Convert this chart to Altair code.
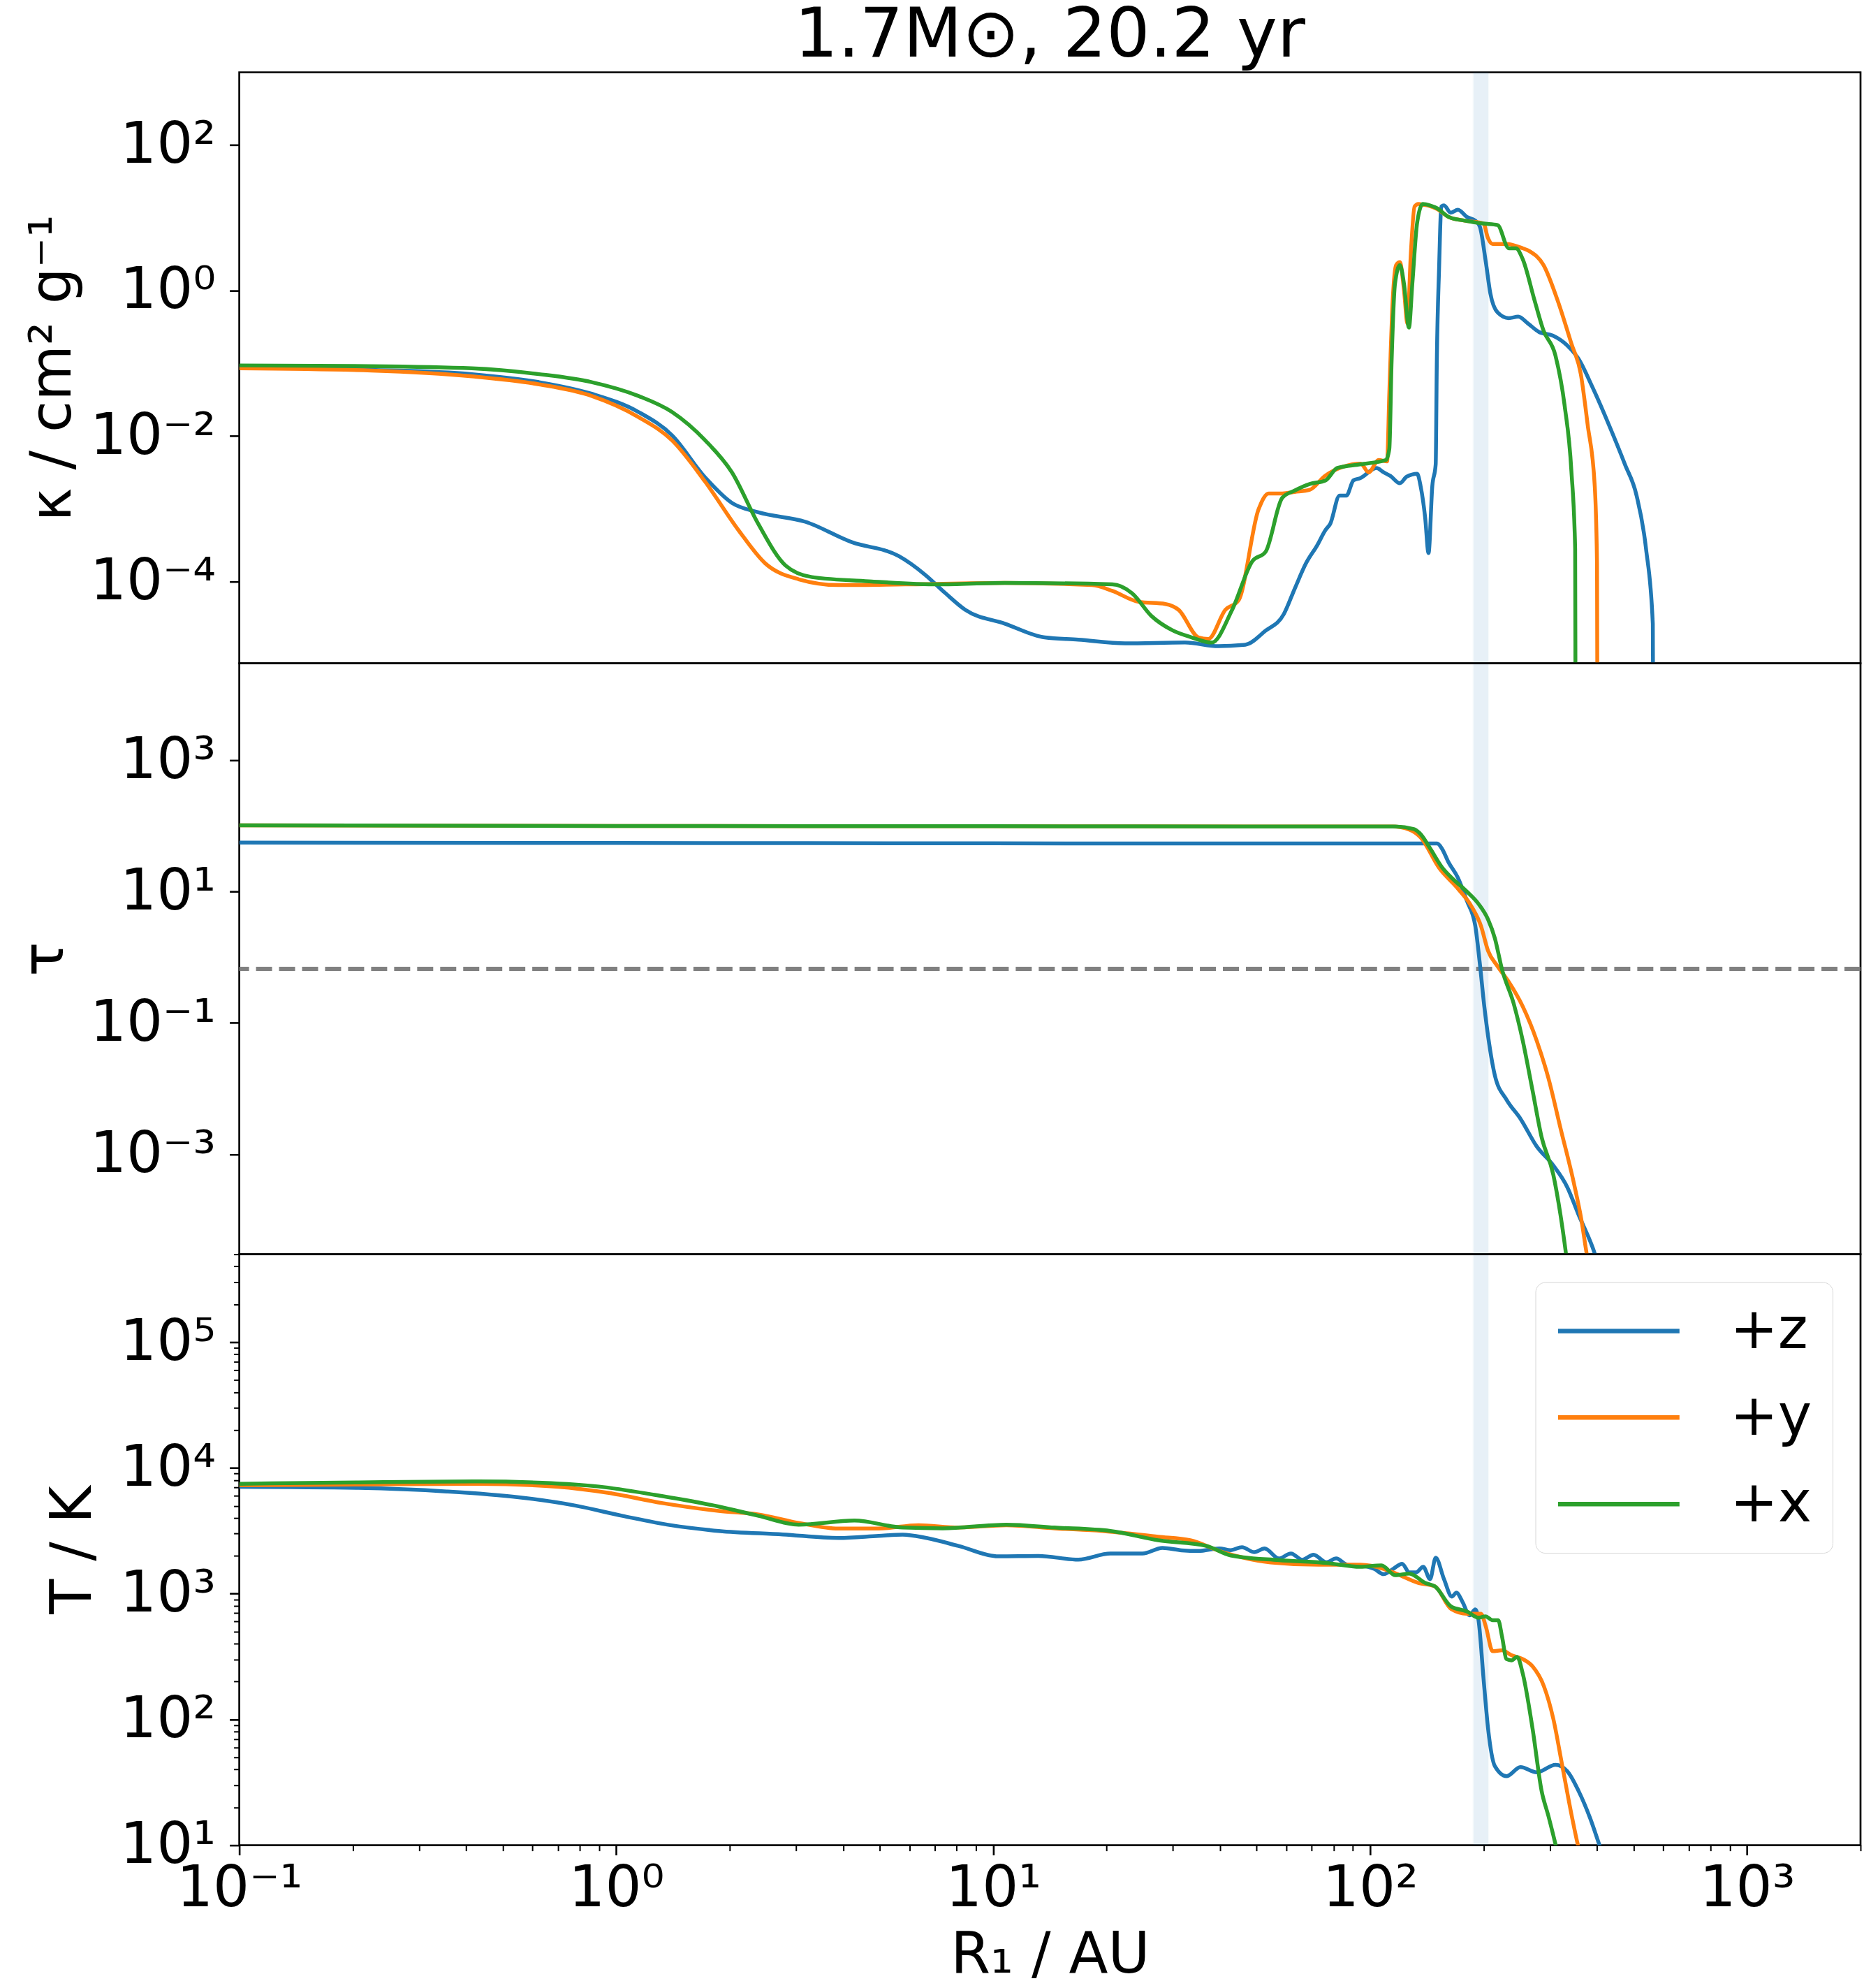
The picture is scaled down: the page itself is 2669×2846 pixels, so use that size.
import altair as alt
import pandas as pd

FONT = "DejaVu Sans"
W = 2324
H = 847

DIRS = ["+z", "+y", "+x"]
COLORS = ["#1f77b4", "#ff7f0e", "#2ca02c"]

# shaded radius band (AU)
BAND = [188.0, 206.0]
TAU_LINE = 2.0 / 3.0

# ---------------- opacity kappa (log10 R, log10 kappa) ----------------
kz_lr = [-1.0, -0.649, -0.383, -0.205, -0.065, 0.059, 0.148, 0.236, 0.307, 0.377, 0.502, 0.625, 0.749,
         0.820, 0.873, 0.926, 1.031, 1.137, 1.226, 1.350, 1.509, 1.598, 1.669, 1.722, 1.771, 1.80, 1.83,
         1.86, 1.882, 1.894, 1.919, 1.937, 1.956, 1.974, 2.017, 2.036, 2.054, 2.079, 2.097, 2.125, 2.134,
         2.146, 2.155, 2.165, 2.174, 2.177, 2.183, 2.189, 2.196, 2.214, 2.233, 2.257, 2.279, 2.291, 2.307,
         2.319, 2.338, 2.368, 2.393, 2.418, 2.448, 2.485, 2.522, 2.553, 2.590, 2.633, 2.676, 2.707, 2.732,
         2.750, 2.751, 2.752]
kz_lk = [-1.06, -1.09, -1.15, -1.26, -1.42, -1.67, -1.99, -2.57, -2.92, -3.05, -3.18, -3.46, -3.65,
         -3.91, -4.16, -4.39, -4.58, -4.77, -4.80, -4.85, -4.84, -4.89, -4.87, -4.68, -4.45, -4.10, -3.75,
         -3.50, -3.29, -3.21, -2.82, -2.82, -2.61, -2.58, -2.44, -2.50, -2.55, -2.65, -2.56, -2.52, -2.69,
         -3.12, -3.61, -2.69, -2.39, -0.985, 0.30, 1.155, 1.17, 1.07, 1.11, 1.01, 0.96, 0.88, 0.39,
         -0.04, -0.30, -0.38, -0.36, -0.45, -0.57, -0.62, -0.75, -0.94, -1.33, -1.84, -2.39, -2.82, -3.55,
         -4.58, -6.0, -8.0]

ky_lr = [-1.0, -0.649, -0.383, -0.205, -0.065, 0.059, 0.148, 0.236, 0.325, 0.395, 0.484, 0.590, 0.767,
         1.031, 1.262, 1.316, 1.386, 1.457, 1.492, 1.545, 1.571, 1.616, 1.651, 1.704, 1.731, 1.767, 1.80,
         1.84, 1.88, 1.93, 1.975, 1.996, 2.023, 2.045, 2.051, 2.060, 2.069, 2.079, 2.090, 2.099, 2.108,
         2.118, 2.128, 2.140, 2.159, 2.178, 2.209, 2.251, 2.301, 2.312, 2.325, 2.362, 2.405, 2.423, 2.460,
         2.497, 2.534, 2.559, 2.577, 2.596, 2.602, 2.603, 2.604]
ky_lk = [-1.07, -1.10, -1.18, -1.29, -1.45, -1.74, -2.06, -2.63, -3.30, -3.75, -3.97, -4.05, -4.04,
         -4.02, -4.05, -4.13, -4.28, -4.31, -4.39, -4.77, -4.79, -4.39, -4.26, -3.01, -2.79, -2.79, -2.77,
         -2.74, -2.55, -2.42, -2.38, -2.50, -2.33, -2.35, -1.41, -0.13, 0.35, 0.39, 0.0, -0.45, 0.5,
         1.155, 1.19, 1.18, 1.16, 1.12, 1.01, 0.96, 0.92, 0.73, 0.64, 0.64, 0.58, 0.54, 0.35,
         -0.13, -0.73, -1.15, -1.84, -2.69, -3.76, -6.0, -8.0]

kx_lr = [-1.0, -0.649, -0.383, -0.205, -0.065, 0.059, 0.148, 0.236, 0.307, 0.377, 0.449, 0.519, 0.678,
         0.855, 1.031, 1.316, 1.368, 1.421, 1.475, 1.527, 1.580, 1.634, 1.688, 1.723, 1.767, 1.80, 1.84,
         1.882, 1.913, 1.974, 2.042, 2.051, 2.057, 2.066, 2.079, 2.090, 2.103, 2.112, 2.125, 2.140, 2.159,
         2.178, 2.209, 2.251, 2.301, 2.338, 2.368, 2.387, 2.405, 2.436, 2.460, 2.492, 2.516, 2.534, 2.544,
         2.545, 2.546]
kx_lk = [-1.03, -1.04, -1.07, -1.15, -1.26, -1.45, -1.67, -2.06, -2.50, -3.21, -3.78, -3.94, -4.00,
         -4.04, -4.02, -4.04, -4.16, -4.48, -4.67, -4.77, -4.84, -4.39, -3.72, -3.59, -2.85, -2.75, -2.66,
         -2.61, -2.44, -2.39, -2.33, -2.18, -0.985, 0.09, 0.35, 0.09, -0.51, 0.09, 0.94, 1.19, 1.17,
         1.13, 1.01, 0.96, 0.92, 0.90, 0.58, 0.58, 0.43, -0.13, -0.55, -0.90, -1.58, -2.48, -3.55,
         -6.0, -8.0]

# ---------------- optical depth tau (log10 R, log10 tau) ----------------
tz_lr = [-1.0, 0.0, 1.0, 1.974, 2.178, 2.190, 2.208, 2.233, 2.257, 2.279, 2.291, 2.303, 2.316, 2.331,
         2.362, 2.399, 2.442, 2.486, 2.523, 2.553, 2.597, 2.62]
tz_lt = [1.745, 1.74, 1.735, 1.732, 1.732, 1.66, 1.447, 1.21, 0.856, 0.48, -0.09, -0.75, -1.32, -1.80,
         -2.17, -2.46, -2.88, -3.17, -3.50, -3.92, -4.53, -5.0]

ty_lr = [-1.0, 0.0, 1.0, 1.974, 2.060, 2.104, 2.134, 2.184, 2.233, 2.270, 2.294, 2.313, 2.338, 2.368,
         2.405, 2.442, 2.473, 2.505, 2.541, 2.560, 2.575, 2.59]
ty_lt = [2.01, 2.0, 1.995, 1.99, 1.99, 1.944, 1.826, 1.353, 1.045, 0.765, 0.48, 0.097, -0.136, -0.376,
         -0.75, -1.27, -1.84, -2.60, -3.45, -3.98, -4.53, -5.0]

tx_lr = [-1.0, 0.0, 1.0, 1.974, 2.067, 2.116, 2.134, 2.159, 2.190, 2.220, 2.257, 2.288, 2.313, 2.331,
         2.350, 2.381, 2.405, 2.431, 2.455, 2.486, 2.505, 2.520, 2.53]
tx_lt = [2.01, 2.0, 1.995, 1.991, 1.991, 1.953, 1.874, 1.66, 1.376, 1.19, 0.999, 0.81, 0.575, 0.29,
         -0.186, -0.707, -1.27, -2.03, -2.74, -3.31, -3.92, -4.53, -5.0]

# ---------------- temperature T (log10 R, log10 T) ----------------
Tz_lr = [-1.0, -0.684, -0.450, -0.259, -0.111, 0.017, 0.144, 0.272, 0.442, 0.590, 0.696, 0.760, 0.823,
         0.908, 1.015, 1.120, 1.226, 1.311, 1.396, 1.449, 1.50, 1.545, 1.60, 1.630, 1.66, 1.693, 1.72,
         1.758, 1.79, 1.82, 1.85, 1.884, 1.91, 1.94, 1.974, 2.011, 2.036, 2.061, 2.085, 2.104, 2.122,
         2.141, 2.159, 2.174, 2.196, 2.217, 2.229, 2.245, 2.264, 2.279, 2.288, 2.301, 2.313, 2.331, 2.362,
         2.399, 2.442, 2.492, 2.523, 2.553, 2.584, 2.608, 2.62]
Tz_lT = [3.85, 3.841, 3.813, 3.767, 3.702, 3.619, 3.545, 3.499, 3.471, 3.443, 3.46, 3.47, 3.443,
         3.38, 3.297, 3.30, 3.271, 3.319, 3.319, 3.364, 3.345, 3.34, 3.36, 3.346, 3.37, 3.33, 3.36,
         3.28, 3.32, 3.27, 3.31, 3.25, 3.28, 3.23, 3.225, 3.197, 3.155, 3.197, 3.238, 3.17, 3.17,
         3.214, 3.116, 3.286, 3.116, 2.977, 3.008, 2.936, 2.828, 2.875, 2.781, 2.323, 1.927, 1.629, 1.549,
         1.621, 1.580, 1.639, 1.589, 1.432, 1.213, 1.005, 0.9]

Ty_lr = [-1.0, -0.684, -0.366, -0.154, -0.026, 0.123, 0.272, 0.378, 0.484, 0.590, 0.696, 0.802, 0.908,
         1.035, 1.163, 1.290, 1.438, 1.523, 1.608, 1.736, 1.863, 1.974, 2.036, 2.073, 2.128, 2.172, 2.215,
         2.257, 2.294, 2.307, 2.325, 2.350, 2.375, 2.405, 2.431, 2.461, 2.486, 2.510, 2.535, 2.551, 2.56]
Ty_lT = [3.863, 3.868, 3.874, 3.85, 3.804, 3.72, 3.658, 3.63, 3.563, 3.518, 3.518, 3.545, 3.526,
         3.545, 3.52, 3.499, 3.453, 3.425, 3.332, 3.249, 3.23, 3.23, 3.197, 3.155, 3.086, 3.058, 2.878,
         2.84, 2.84, 2.739, 2.543, 2.55, 2.511, 2.48, 2.422, 2.265, 2.006, 1.629, 1.233, 1.005, 0.9]

Tx_lr = [-1.0, -0.684, -0.366, -0.196, -0.046, 0.102, 0.272, 0.378, 0.484, 0.632, 0.760, 0.866, 1.035,
         1.163, 1.311, 1.438, 1.566, 1.630, 1.758, 1.884, 1.974, 2.030, 2.067, 2.104, 2.146, 2.172, 2.215,
         2.257, 2.288, 2.306, 2.325, 2.340, 2.350, 2.362, 2.375, 2.390, 2.405, 2.431, 2.455, 2.473, 2.492,
         2.50]
Tx_lT = [3.874, 3.885, 3.893, 3.882, 3.852, 3.786, 3.693, 3.619, 3.549, 3.582, 3.526, 3.52, 3.549,
         3.526, 3.499, 3.425, 3.38, 3.304, 3.267, 3.245, 3.214, 3.225, 3.147, 3.16, 3.086, 3.058, 2.898,
         2.859, 2.809, 2.82, 2.789, 2.789, 2.659, 2.48, 2.47, 2.498, 2.365, 1.927, 1.432, 1.233, 1.005,
         0.9]

# ---------------- axis ticks ----------------
X_TICKS = [m * 10.0 ** e for e in range(-1, 3) for m in range(1, 10)] + [1000.0, 2000.0]
K_TICKS = [1e-4, 1e-2, 1.0, 1e2]
TAU_TICKS = [1e-3, 1e-1, 10.0, 1e3]
T_TICKS = [m * 10.0 ** e for e in range(1, 5) for m in range(1, 10)] + [1e5, 2e5, 3e5, 4e5, 5e5]

SUP = {-5: "⁻⁵", -4: "⁻⁴", -3: "⁻³", -2: "⁻²", -1: "⁻¹", 0: "⁰",
       1: "¹", 2: "²", 3: "³", 4: "⁴", 5: "⁵"}
EXPO = "round(log(datum.value)/LN10)"
IS_MAJOR = "abs(log(datum.value)/LN10 - round(log(datum.value)/LN10)) < 0.001"
inner = "''"
for e, s in SUP.items():
    inner = f"({EXPO} == {e} ? '10{s}' : {inner})"
LABEL_EXPR = f"({IS_MAJOR}) ? {inner} : ''"

TICK_SIZE = {"condition": {"test": IS_MAJOR, "value": 14}, "value": 8}
TICK_WIDTH = {"condition": {"test": IS_MAJOR, "value": 2.6}, "value": 2.0}

LBL = 82


def build(parts, field):
    rows = []
    for name, lr, lv in parts:
        for a, b in zip(lr, lv):
            rows.append({"r": 10 ** a, field: 10 ** b, "dir": name})
    return pd.DataFrame(rows)


def yaxis(title, ticks, tpad=25):
    return alt.Axis(values=ticks, labelExpr=LABEL_EXPR, tickSize=TICK_SIZE, tickWidth=TICK_WIDTH,
                    tickColor="black", labelFont=FONT, labelFontSize=LBL, labelColor="black",
                    labelPadding=20, labelOverlap=False, labelFlush=False, labelLimit=600,
                    title=title, titleFont=FONT, titleFontSize=LBL, titleFontWeight="normal",
                    titleColor="black", titlePadding=tpad, domain=False, grid=False)


x_scale = alt.Scale(type="log", domain=[0.1, 2000.0], nice=False)
x_axis_bottom = alt.Axis(values=X_TICKS, labelExpr=LABEL_EXPR, tickSize=TICK_SIZE, tickWidth=TICK_WIDTH,
                         tickColor="black", labelFont=FONT, labelFontSize=LBL, labelColor="black",
                         labelPadding=8, labelOverlap=False, labelFlush=False, labelLimit=600,
                         title="R₁ / AU", titleFont=FONT, titleFontSize=LBL, titleFontWeight="normal",
                         titleColor="black", titlePadding=14, domain=False, grid=False)

band_df = pd.DataFrame({"x0": [BAND[0]], "x1": [BAND[1]]})


def panel(df, field, yscale, yax, xax, legend, extra=None, title=None):
    band = alt.Chart(band_df).mark_rect(color="#1f77b4", opacity=0.1, stroke="#1f77b4",
                                        strokeOpacity=0.12, strokeWidth=3).encode(
        x=alt.X("x0:Q", scale=x_scale, axis=xax), x2="x1:Q")
    layers = [band]
    if extra is not None:
        layers.append(extra)
    for d in DIRS:
        sub = df[df["dir"] == d]
        layers.append(alt.Chart(sub).mark_line(strokeWidth=5.5, clip=True, interpolate="monotone").encode(
            x=alt.X("r:Q", scale=x_scale, axis=xax),
            y=alt.Y(f"{field}:Q", scale=yscale, axis=yax),
            color=alt.Color("dir:N", scale=alt.Scale(domain=DIRS, range=COLORS), legend=legend),
        ))
    props = dict(width=W, height=H)
    if title is not None:
        props["title"] = title
    return alt.layer(*layers).properties(**props)


k_df = build([("+z", kz_lr, kz_lk), ("+y", ky_lr, ky_lk), ("+x", kx_lr, kx_lk)], "kappa")
t_df = build([("+z", tz_lr, tz_lt), ("+y", ty_lr, ty_lt), ("+x", tx_lr, tx_lt)], "tau")
T_df = build([("+z", Tz_lr, Tz_lT), ("+y", Ty_lr, Ty_lT), ("+x", Tx_lr, Tx_lT)], "T")

k_scale = alt.Scale(type="log", domain=[7.5e-6, 1e3], nice=False)
tau_scale = alt.Scale(type="log", domain=[3e-5, 3e4], nice=False)
T_scale = alt.Scale(type="log", domain=[10.0, 5e5], nice=False)

k_axis = yaxis("κ / cm² g⁻¹", K_TICKS)
tau_axis = yaxis("τ", TAU_TICKS, tpad=36)
T_axis = yaxis("T / K", T_TICKS)

title = alt.TitleParams("1.7M⊙, 20.2 yr", font=FONT, fontSize=98, fontWeight="normal", color="black",
                        anchor="middle", frame="group", offset=0)

top = panel(k_df, "kappa", k_scale, k_axis, None, None, title=title)

rule = alt.Chart(pd.DataFrame({"tau": [TAU_LINE]})).mark_rule(
    color="#808080", strokeDash=[23, 10], strokeWidth=6).encode(
    y=alt.Y("tau:Q", scale=tau_scale, axis=tau_axis))
mid = panel(t_df, "tau", tau_scale, tau_axis, None, None, extra=rule)

# horizontal line symbol (174 px long) starting at the left edge of a compact 75 px legend slot
legend = alt.Legend(title=None, orient="top-right", offset=40, labelFont=FONT, labelFontSize=LBL,
                    labelColor="black", symbolType="M-1,0L3.64,0", symbolSize=5625,
                    symbolStrokeWidth=6.5, labelOffset=168, padding=29, rowPadding=42,
                    fillColor="white", strokeColor="#d6d6d6", cornerRadius=14)
bot = panel(T_df, "T", T_scale, T_axis, x_axis_bottom, legend)

chart = alt.vconcat(top, mid, bot, spacing=0, bounds="flush").resolve_scale(
    color="independent").resolve_legend(color="independent").properties(
    padding={"left": 22, "top": 0, "right": 0, "bottom": 0}
).configure_view(stroke="black", strokeWidth=2.7)

chart.save("out.html", embed_options={"renderer": "svg", "actions": False})
